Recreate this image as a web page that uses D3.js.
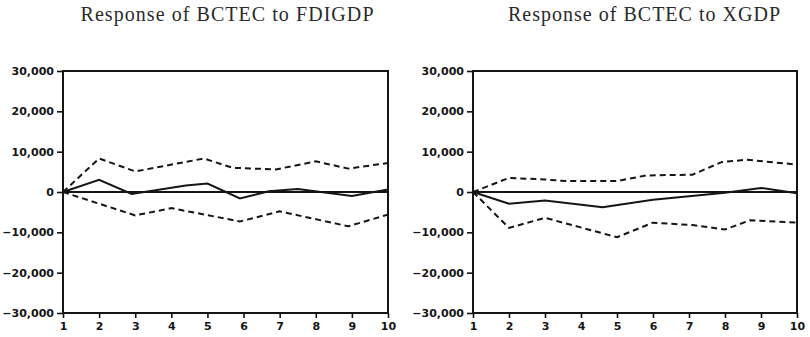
<!DOCTYPE html>
<html>
<head>
<meta charset="utf-8">
<script src="https://cdn.jsdelivr.net/npm/d3@7"></script>
<style>
  html, body { margin: 0; padding: 0; background: #fff; }
  svg { display: block; }
</style>
</head>
<body>
<svg id="chart" width="810" height="337"></svg>
<script>
// ---- data ----
const periods = [1, 2, 3, 4, 5, 6, 7, 8, 9, 10];
const yTicks = [-30000, -20000, -10000, 0, 10000, 20000, 30000];
const titles = ["Response of BCTEC to FDIGDP", "Response of BCTEC to XGDP"];

// Panel 1: Response of BCTEC to FDIGDP
const fdiSolidX = [1, 2, 2.9, 4.4, 5, 5.9, 6.7, 7.5, 9, 10];
const fdiSolidV = [0, 3000, -500, 1600, 2100, -1600, 200, 750, -1000, 600];
const fdiUpperX = [1, 2, 3, 4.9, 5.7, 6.9, 8, 8.9, 10];
const fdiUpperV = [0, 8300, 5100, 8300, 6000, 5600, 7600, 5800, 7200];
const fdiLowerX = [1, 3, 4, 5.9, 7, 8.9, 10];
const fdiLowerV = [0, -5800, -4000, -7300, -4800, -8500, -5600];

// Panel 2: Response of BCTEC to XGDP
const xgSolidX = [1, 2, 3, 4.6, 6, 8, 9, 10];
const xgSolidV = [0, -2900, -2100, -3800, -1900, -200, 1000, -300];
const xgUpperX = [1, 2, 3, 3.6, 5, 5.8, 7.1, 7.9, 8.6, 10];
const xgUpperV = [0, 3500, 3100, 2700, 2700, 4100, 4300, 7400, 8000, 6800];
const xgLowerX = [1, 2, 3, 5, 6, 7.1, 8, 8.7, 10];
const xgLowerV = [0, -8900, -6400, -11200, -7600, -8200, -9300, -7000, -7600];

// ---- layout ----
const panels = [
  { left: 63, right: 388, titleX: 227, title: titles[0],
    series: [
      { x: fdiSolidX, v: fdiSolidV, dash: null },
      { x: fdiUpperX, v: fdiUpperV, dash: "6,4" },
      { x: fdiLowerX, v: fdiLowerV, dash: "6,4" }
    ] },
  { left: 473, right: 797, titleX: 644, title: titles[1],
    series: [
      { x: xgSolidX, v: xgSolidV, dash: null },
      { x: xgUpperX, v: xgUpperV, dash: "6,4" },
      { x: xgLowerX, v: xgLowerV, dash: "6,4" }
    ] }
];
const plotTop = 71, plotBottom = 313;
const svg = d3.select("#chart");
const fmt = d3.format(",");

panels.forEach((p, i) => {
  const x = d3.scaleLinear().domain([1, 10]).range([p.left, p.right]);
  const y = d3.scaleLinear().domain([-30000, 30000]).range([plotBottom, plotTop]);
  const g = svg.append("g");

  // title
  g.append("text")
    .attr("x", p.titleX).attr("y", 21)
    .attr("text-anchor", "middle")
    .attr("font-family", "Liberation Serif, serif")
    .attr("font-size", 20)
    .attr("fill", "#2a2a2a")
    .attr("textLength", i === 0 ? 293 : 272)
    .attr("lengthAdjust", "spacing")
    .text(p.title);

  // y axis
  const ya = g.append("g")
    .attr("transform", `translate(${p.left},0)`)
    .call(d3.axisLeft(y).tickValues(yTicks).tickFormat(fmt).tickSize(6).tickPadding(3));
  // x axis
  const xa = g.append("g")
    .attr("transform", `translate(0,${plotBottom})`)
    .call(d3.axisBottom(x).tickValues(periods).tickFormat(d3.format("d")).tickSize(5).tickPadding(4));

  [ya, xa].forEach(a => {
    a.select(".domain").remove();
    a.selectAll("line").attr("stroke", "#111").attr("stroke-width", 1.6);
    a.selectAll("text")
      .attr("font-family", "DejaVu Sans, sans-serif")
      .attr("font-weight", "bold")
      .attr("font-size", 11)
      .attr("fill", "#151515");
  });

  // frame
  g.append("rect")
    .attr("x", x(1)).attr("y", y(30000))
    .attr("width", x(10) - x(1)).attr("height", y(-30000) - y(30000))
    .attr("fill", "none").attr("stroke", "#151515").attr("stroke-width", 2);

  // zero line
  g.append("line")
    .attr("x1", x(1)).attr("x2", x(10))
    .attr("y1", y(0)).attr("y2", y(0))
    .attr("stroke", "#151515").attr("stroke-width", 2);

  // series
  const line = d3.line().x(d => x(d[0])).y(d => y(d[1]));
  p.series.forEach(s => {
    const pts = s.x.map((xv, k) => [xv, s.v[k]]);
    g.append("path")
      .attr("d", line(pts))
      .attr("fill", "none")
      .attr("stroke", "#151515")
      .attr("stroke-width", 2)
      .attr("stroke-dasharray", s.dash);
  });
});
</script>
</body>
</html>
